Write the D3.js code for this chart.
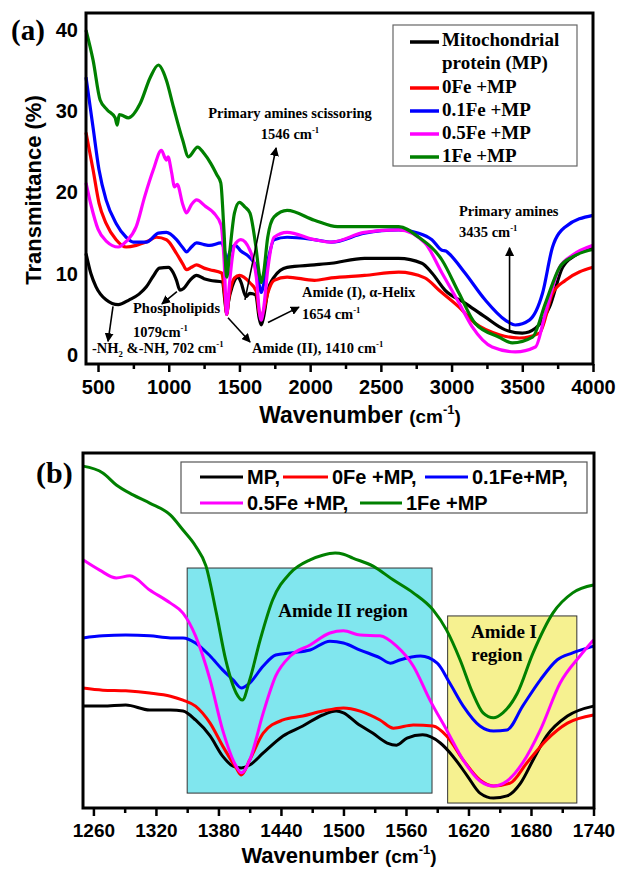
<!DOCTYPE html>
<html><head><meta charset="utf-8">
<script src="https://cdn.jsdelivr.net/npm/d3@7"></script>
<style>body{margin:0;background:#fff}</style>
</head><body>
<svg id="chart" width="621" height="870"></svg>
<script>
// ---------------- DATA ----------------
const seriesNames = ["Mitochondrial protein (MP)", "0Fe +MP", "0.1Fe +MP", "0.5Fe +MP", "1Fe +MP"];
const seriesColors = ["#000000", "#ff0000", "#0000ff", "#ff00ff", "#008000"];

// Panel (a): [wavenumber cm-1, transmittance %]
const a_MP = [[415,12.5],[450,10.0],[486,8.4],[557,6.8],[643,6.2],[721,6.8],[790,7.5],[842,8.4],[890,9.7],[934,10.7],[998,10.8],[1030,10.2],[1055,9.2],[1079,8.0],[1105,8.2],[1150,9.2],[1197,9.8],[1250,9.4],[1290,9.2],[1380,9.0],[1398,6.5],[1410,5.0],[1422,6.5],[1450,8.5],[1490,9.6],[1510,9.0],[1546,7.2],[1574,7.6],[1615,7.4],[1640,4.5],[1654,3.7],[1670,4.6],[1700,7.8],[1745,9.6],[1837,10.8],[2030,11.1],[2150,11.3],[2384,11.9],[2626,11.9],[2790,11.3],[2861,10.1],[2953,8.0],[3095,6.4],[3237,4.7],[3380,3.1],[3500,2.7],[3593,3.3],[3692,5.9],[3785,10.8],[3877,12.3],[4000,13.2]];
const a_0Fe = [[415,27.4],[465,22.8],[507,18.7],[557,16.2],[628,14.2],[699,13.3],[770,13.5],[850,14.0],[913,14.5],[984,14.2],[1055,12.5],[1100,11.2],[1126,10.5],[1160,10.8],[1197,11.1],[1250,10.7],[1290,10.5],[1375,10.1],[1395,7.5],[1410,5.0],[1425,7.0],[1465,9.5],[1500,9.8],[1574,8.9],[1620,7.8],[1640,5.2],[1654,4.6],[1670,5.4],[1700,7.6],[1745,9.2],[1837,9.6],[2030,9.2],[2150,9.5],[2384,9.8],[2626,10.2],[2811,9.5],[2910,8.0],[3053,5.9],[3167,3.9],[3337,2.5],[3479,2.1],[3621,2.7],[3714,7.6],[3806,9.2],[4000,10.8]];
const a_01Fe = [[415,34.2],[465,28.0],[507,22.8],[557,19.1],[628,16.2],[699,14.5],[749,13.9],[842,13.9],[927,15.0],[984,15.1],[1055,14.2],[1100,13.2],[1126,12.7],[1160,13.3],[1197,13.8],[1250,13.6],[1290,13.5],[1370,13.8],[1395,12.8],[1410,11.5],[1428,12.5],[1470,13.5],[1510,12.8],[1567,12.1],[1620,10.8],[1640,8.6],[1654,7.7],[1670,8.6],[1700,11.5],[1745,14.2],[1837,14.5],[2030,14.2],[2150,13.9],[2384,15.0],[2626,15.4],[2768,15.0],[2861,14.2],[2932,12.9],[2960,12.8],[2981,12.5],[3095,10.1],[3237,6.8],[3380,4.3],[3451,3.7],[3550,4.3],[3643,7.6],[3714,13.3],[3806,15.8],[4000,17.2]];
const a_05Fe = [[415,21.2],[450,18.5],[500,15.5],[560,14.0],[643,13.3],[700,14.0],[770,15.8],[830,19.5],[891,22.8],[948,25.2],[975,24.2],[984,24.0],[995,24.4],[1020,22.5],[1041,20.7],[1060,21.0],[1100,18.5],[1126,17.5],[1160,18.5],[1197,19.1],[1260,18.3],[1318,17.5],[1370,16.0],[1392,11.5],[1410,5.0],[1428,8.5],[1465,13.5],[1510,14.2],[1574,12.9],[1620,9.5],[1640,5.5],[1654,4.3],[1670,5.6],[1700,10.5],[1745,14.5],[1837,15.1],[2030,14.2],[2150,13.9],[2384,15.1],[2626,15.4],[2811,13.8],[2932,10.1],[3053,6.4],[3145,3.5],[3287,1.0],[3451,0.4],[3593,1.0],[3664,5.2],[3764,10.8],[3856,12.3],[4000,13.5]];
const a_1Fe = [[415,40.0],[465,36.3],[515,31.4],[564,30.2],[621,29.2],[636,28.3],[650,29.6],[671,29.5],[714,29.2],[799,31.0],[870,34.2],[927,35.7],[963,34.8],[984,33.8],[1034,30.5],[1098,26.5],[1140,24.4],[1204,25.6],[1250,24.8],[1297,23.6],[1340,22.2],[1368,21.2],[1390,15.5],[1410,9.6],[1430,12.5],[1465,17.5],[1500,18.8],[1540,18.2],[1574,17.5],[1615,13.5],[1640,10.0],[1654,8.9],[1670,10.0],[1700,14.5],[1745,17.0],[1837,17.8],[2030,16.6],[2193,15.8],[2626,15.8],[2768,14.5],[2932,11.7],[3053,7.6],[3167,3.9],[3337,2.2],[3430,1.5],[3572,2.2],[3664,6.4],[3764,10.8],[3856,12.1],[4000,13.0]];

// Panel (b): [wavenumber cm-1, relative transmittance (a.u.)]
const b_MP = [[1250,28.7],[1269,28.7],[1291,29.0],[1314,27.6],[1334,27.6],[1346,27.3],[1358,24.8],[1372,20.3],[1384,14.6],[1394,11.8],[1402,11.3],[1410,12.1],[1423,15.5],[1442,20.3],[1461,23.1],[1480,26.2],[1493,27.3],[1500,26.8],[1513,23.9],[1528,21.1],[1542,18.3],[1551,17.7],[1561,19.7],[1576,20.6],[1593,18.3],[1605,14.6],[1619,9.0],[1631,4.2],[1644,2.8],[1657,3.4],[1670,7.0],[1682,13.5],[1695,20.3],[1715,25.9],[1740,28.7]];
const b_0Fe = [[1250,33.8],[1269,33.2],[1291,33.0],[1314,32.4],[1334,31.5],[1346,30.4],[1358,28.7],[1372,23.9],[1384,17.5],[1397,11.3],[1402,9.3],[1410,13.5],[1423,21.1],[1442,24.8],[1461,25.9],[1480,27.3],[1500,28.2],[1516,27.3],[1535,24.8],[1548,22.5],[1567,23.4],[1586,23.1],[1599,20.3],[1615,13.5],[1631,7.9],[1644,6.2],[1660,7.0],[1676,12.7],[1695,19.2],[1715,23.9],[1740,26.2]];
const b_01Fe = [[1250,47.9],[1269,48.5],[1291,48.7],[1314,48.5],[1334,47.9],[1346,47.9],[1358,46.5],[1372,42.8],[1384,38.9],[1394,36.1],[1402,33.8],[1410,35.2],[1423,40.0],[1435,43.1],[1449,43.7],[1468,44.5],[1487,47.0],[1500,46.5],[1516,44.5],[1535,42.3],[1545,40.8],[1554,41.7],[1574,42.8],[1590,40.8],[1602,35.2],[1615,28.7],[1631,23.1],[1644,21.7],[1657,22.0],[1672,28.7],[1689,36.1],[1705,41.7],[1720,43.7],[1740,45.6]];
const b_05Fe = [[1250,69.9],[1266,67.0],[1282,64.8],[1295,65.4],[1314,61.4],[1334,57.7],[1346,54.9],[1358,48.5],[1372,36.1],[1384,22.0],[1397,11.8],[1402,9.9],[1410,13.5],[1423,26.8],[1435,37.2],[1449,42.8],[1468,45.9],[1487,49.3],[1500,49.9],[1516,48.7],[1535,48.5],[1551,45.6],[1567,40.0],[1583,30.4],[1599,22.0],[1615,13.5],[1631,7.6],[1644,6.2],[1657,7.6],[1672,12.7],[1689,22.0],[1708,35.2],[1727,42.8],[1740,47.3]];
const b_1Fe = [[1250,96.3],[1269,94.4],[1282,91.0],[1298,88.2],[1314,85.9],[1334,82.5],[1346,78.3],[1358,73.8],[1368,68.2],[1378,54.9],[1387,41.7],[1397,32.4],[1403,30.4],[1410,36.1],[1420,47.3],[1432,58.6],[1449,66.2],[1468,69.9],[1480,71.2],[1492,71.8],[1500,71.5],[1509,70.4],[1528,68.2],[1548,64.2],[1567,60.6],[1586,55.8],[1599,50.1],[1612,41.7],[1624,32.4],[1634,26.8],[1644,25.4],[1653,26.8],[1667,32.4],[1682,43.7],[1701,54.9],[1720,60.6],[1740,62.8]];

const aTicksX = [500,1000,1500,2000,2500,3000,3500,4000];
const aMinorX = [750,1250,1750,2250,2750,3250,3750];
const aTicksY = [0,10,20,30,40];
const bTicksX = [1260,1320,1380,1440,1500,1560,1620,1680,1740];
const bMinorX = [1290,1350,1410,1470,1530,1590,1650,1710];
const bLegendNames = ["MP,", "0Fe +MP,", "0.1Fe+MP,", "0.5Fe +MP,", "1Fe +MP"];
// shaded regions in panel (b): [x0, x1, y0, y1] in data units
const bRegionAmideII = [1350, 1585, 4.2, 67.6];
const bRegionAmideI = [1600, 1724, 1.4, 54.1];

// ---------------- DRAW ----------------
const svg = d3.select("#chart");
const SERIF = "'Liberation Serif','Times New Roman',serif";
const SANS = "'Liberation Sans',Arial,sans-serif";

svg.append("defs").append("marker")
  .attr("id","arr").attr("viewBox","0 0 10 10").attr("refX",9).attr("refY",5)
  .attr("markerWidth",9).attr("markerHeight",9).attr("markerUnits","userSpaceOnUse")
  .attr("orient","auto")
  .append("path").attr("d","M0,0 L10,5 L0,10 z").attr("fill","#000");

// parts: strings, {sup:".."} or {sub:".."}
function richText(g, x, y, parts, size, family, weight, anchor) {
  const t = g.append("text").attr("x",x).attr("y",y)
    .attr("font-family",family).attr("font-size",size).attr("font-weight",weight||"bold")
    .attr("text-anchor",anchor||"start").attr("fill","#000");
  let pending = 0;
  parts.forEach(p => {
    if (typeof p === "string") {
      const s = t.append("tspan").text(p);
      if (pending) { s.attr("dy", pending); pending = 0; }
    } else {
      const shift = p.sup ? -size*0.42 : size*0.25;
      t.append("tspan").attr("dy", pending + shift).attr("font-size", size*0.6).text(p.sup || p.sub);
      pending = -shift;
    }
  });
  return t;
}

// ===== Panel (a) =====
const A = {l:86, t:13, r:593, b:364};
const xa = d3.scaleLinear().domain([415,4000]).range([A.l, A.r]);
const ya = d3.scaleLinear().domain([-1.1,42.1]).range([A.b, A.t]);
const ga = svg.append("g");
const lineA = d3.line().x(d=>xa(d[0])).y(d=>ya(d[1])).curve(d3.curveMonotoneX);

[a_MP, a_0Fe, a_01Fe, a_05Fe, a_1Fe].forEach((s,i)=>{
  ga.append("path").datum(s).attr("d",lineA).attr("fill","none")
    .attr("stroke",seriesColors[i]).attr("stroke-width",3.2).attr("stroke-linejoin","round");
});

// x axis (a)
const axA = ga.append("g").attr("transform",`translate(0,${A.b})`)
  .call(d3.axisBottom(xa).tickValues(aTicksX).tickSize(8).tickPadding(8).tickFormat(d3.format("d")));
axA.select(".domain").remove();
axA.selectAll("line").attr("stroke-width",2.5);
axA.selectAll("text").attr("font-family",SANS).attr("font-size",20).attr("font-weight","bold").attr("fill","#000");
const axAm = ga.append("g").attr("transform",`translate(0,${A.b})`)
  .call(d3.axisBottom(xa).tickValues(aMinorX).tickSize(5).tickFormat(""));
axAm.select(".domain").remove();
axAm.selectAll("text").remove();
axAm.selectAll("line").attr("stroke-width",2.5);
// y axis (a)
const ayA = ga.append("g").attr("transform",`translate(${A.l},0)`)
  .call(d3.axisLeft(ya).tickValues(aTicksY).tickSize(0).tickPadding(8));
ayA.select(".domain").remove();
ayA.selectAll("text").attr("font-family",SANS).attr("font-size",20).attr("font-weight","bold").attr("fill","#000");

ga.append("rect").attr("x",A.l).attr("y",A.t).attr("width",A.r-A.l).attr("height",A.b-A.t)
  .attr("fill","none").attr("stroke","#000").attr("stroke-width",3);

// axis titles (a)
ga.append("text").attr("transform",`translate(41,190) rotate(-90)`).attr("text-anchor","middle")
  .attr("font-family",SANS).attr("font-size",22).attr("font-weight","bold").text("Transmittance (%)");
{
  const t = ga.append("text").attr("x",360).attr("y",423).attr("text-anchor","middle")
    .attr("font-family",SANS).attr("font-weight","bold");
  t.append("tspan").attr("font-size",23).text("Wavenumber ");
  t.append("tspan").attr("font-size",19).text("(cm");
  t.append("tspan").attr("font-size",13).attr("dy",-9).text("-1");
  t.append("tspan").attr("font-size",19).attr("dy",9).text(")");
}
ga.append("text").attr("x",11).attr("y",40).attr("font-family",SERIF).attr("font-size",29)
  .attr("font-weight","bold").text("(a)");

// legend (a)
ga.append("rect").attr("x",393).attr("y",25).attr("width",184).attr("height",141)
  .attr("fill","#fff").attr("stroke","#666").attr("stroke-width",1.2);
const legRowsA = [[46,42],[93,88],[116,111],[139,134],[162,157]];
seriesNames.forEach((n,i)=>{
  const [by, ly] = legRowsA[i];
  ga.append("line").attr("x1",410).attr("x2",439).attr("y1",ly).attr("y2",ly)
    .attr("stroke",seriesColors[i]).attr("stroke-width",3.5);
  if (i===0) {
    ga.append("text").attr("x",442).attr("y",by).attr("font-family",SERIF).attr("font-size",19)
      .attr("font-weight","bold").text("Mitochondrial");
    ga.append("text").attr("x",442).attr("y",69).attr("font-family",SERIF).attr("font-size",19)
      .attr("font-weight","bold").text("protein (MP)");
  } else {
    ga.append("text").attr("x",442).attr("y",by).attr("font-family",SERIF).attr("font-size",19)
      .attr("font-weight","bold").text(n);
  }
});

// annotations (a)
const annFs = 14.5;
richText(ga, 290, 118, ["Primary amines scissoring"], annFs, SERIF, "bold", "middle");
richText(ga, 290, 139, ["1546 cm",{sup:"-1"}], annFs, SERIF, "bold", "middle");
richText(ga, 133, 313, ["Phospholipids"], annFs, SERIF, "bold");
richText(ga, 133, 337, ["1079cm",{sup:"-1"}], annFs, SERIF, "bold");
richText(ga, 92, 353, ["-NH",{sub:"2"}," &-NH, 702 cm",{sup:"-1"}], annFs, SERIF, "bold");
richText(ga, 252, 353, ["Amide (II), 1410 cm",{sup:"-1"}], annFs, SERIF, "bold");
richText(ga, 302, 297, ["Amide (I), \u03b1-Helix"], annFs, SERIF, "bold");
richText(ga, 302, 319, ["1654 cm",{sup:"-1"}], annFs, SERIF, "bold");
richText(ga, 459, 216, ["Primary amines"], annFs, SERIF, "bold");
richText(ga, 459, 237, ["3435 cm",{sup:"-1"}], annFs, SERIF, "bold");

const arrowsA = [
  [[1539,6.8],[1759,25.5]],
  [[1058,7.8],[952,6.3]],
  [[606,6.0],[571,1.7]],
  [[1419,4.6],[1575,1.6]],
  [[1702,4.0],[1921,5.9]],
  [[3410,2.8],[3410,13.2]]
];
arrowsA.forEach(([p,q])=>{
  ga.append("line").attr("x1",xa(p[0])).attr("y1",ya(p[1])).attr("x2",xa(q[0])).attr("y2",ya(q[1]))
    .attr("stroke","#000").attr("stroke-width",1.6).attr("marker-end","url(#arr)");
});

// ===== Panel (b) =====
const B = {l:83, t:453, r:594, b:808};
const xb = d3.scaleLinear().domain([1250,1740]).range([B.l, 593.5]);
const yb = d3.scaleLinear().domain([0,100]).range([B.b, B.t]);
const gb = svg.append("g");

gb.append("rect").attr("x",xb(bRegionAmideII[0])).attr("y",yb(bRegionAmideII[3]))
  .attr("width",xb(bRegionAmideII[1])-xb(bRegionAmideII[0])).attr("height",yb(bRegionAmideII[2])-yb(bRegionAmideII[3]))
  .attr("fill","#80e6ee").attr("stroke","#333").attr("stroke-width",1);
gb.append("rect").attr("x",xb(bRegionAmideI[0])).attr("y",yb(bRegionAmideI[3]))
  .attr("width",xb(bRegionAmideI[1])-xb(bRegionAmideI[0])).attr("height",yb(bRegionAmideI[2])-yb(bRegionAmideI[3]))
  .attr("fill","#f6f190").attr("stroke","#333").attr("stroke-width",1);
gb.append("text").attr("x",343).attr("y",617).attr("text-anchor","middle").attr("font-family",SERIF)
  .attr("font-size",19).attr("font-weight","bold").text("Amide II region");
gb.append("text").attr("x",504).attr("y",638).attr("text-anchor","middle").attr("font-family",SERIF)
  .attr("font-size",19).attr("font-weight","bold").text("Amide I");
gb.append("text").attr("x",497).attr("y",661).attr("text-anchor","middle").attr("font-family",SERIF)
  .attr("font-size",19).attr("font-weight","bold").text("region");

const lineB = d3.line().x(d=>xb(d[0])).y(d=>yb(d[1])).curve(d3.curveMonotoneX);
[b_MP, b_0Fe, b_01Fe, b_05Fe, b_1Fe].forEach((s,i)=>{
  gb.append("path").datum(s).attr("d",lineB).attr("fill","none")
    .attr("stroke",seriesColors[i]).attr("stroke-width",3).attr("stroke-linejoin","round");
});

const axB = gb.append("g").attr("transform",`translate(0,${B.b})`)
  .call(d3.axisBottom(xb).tickValues(bTicksX).tickSize(8).tickPadding(8).tickFormat(d3.format("d")));
axB.select(".domain").remove();
axB.selectAll("line").attr("stroke-width",2.5);
axB.selectAll("text").attr("font-family",SANS).attr("font-size",19).attr("font-weight","bold").attr("fill","#000");
const axBm = gb.append("g").attr("transform",`translate(0,${B.b})`)
  .call(d3.axisBottom(xb).tickValues(bMinorX).tickSize(5).tickFormat(""));
axBm.select(".domain").remove();
axBm.selectAll("text").remove();
axBm.selectAll("line").attr("stroke-width",2.5);

gb.append("rect").attr("x",B.l).attr("y",B.t).attr("width",B.r-B.l).attr("height",B.b-B.t)
  .attr("fill","none").attr("stroke","#000").attr("stroke-width",3);

{
  const t = gb.append("text").attr("x",339).attr("y",863).attr("text-anchor","middle")
    .attr("font-family",SANS).attr("font-weight","bold");
  t.append("tspan").attr("font-size",22).text("Wavenumber ");
  t.append("tspan").attr("font-size",19).text("(cm");
  t.append("tspan").attr("font-size",13).attr("dy",-9).text("-1");
  t.append("tspan").attr("font-size",19).attr("dy",9).text(")");
}
gb.append("text").attr("x",36).attr("y",483).attr("font-family",SERIF).attr("font-size",30)
  .attr("font-weight","bold").text("(b)");

// legend (b)
gb.append("rect").attr("x",181).attr("y",462).attr("width",406).attr("height",51)
  .attr("fill","#fff").attr("stroke","#555").attr("stroke-width",1.2);
const legB = [[200,477],[283,477],[425,477],[200,503],[360,503]];
const legBlen = [43,45,43,43,42];
bLegendNames.forEach((n,i)=>{
  const [x,y] = legB[i];
  gb.append("line").attr("x1",x).attr("x2",x+legBlen[i]).attr("y1",y).attr("y2",y)
    .attr("stroke",seriesColors[i]).attr("stroke-width",3);
  gb.append("text").attr("x",x+legBlen[i]+4).attr("y",y+7).attr("font-family",SANS)
    .attr("font-size",20).attr("font-weight","bold").text(n);
});
</script>
</body></html>
